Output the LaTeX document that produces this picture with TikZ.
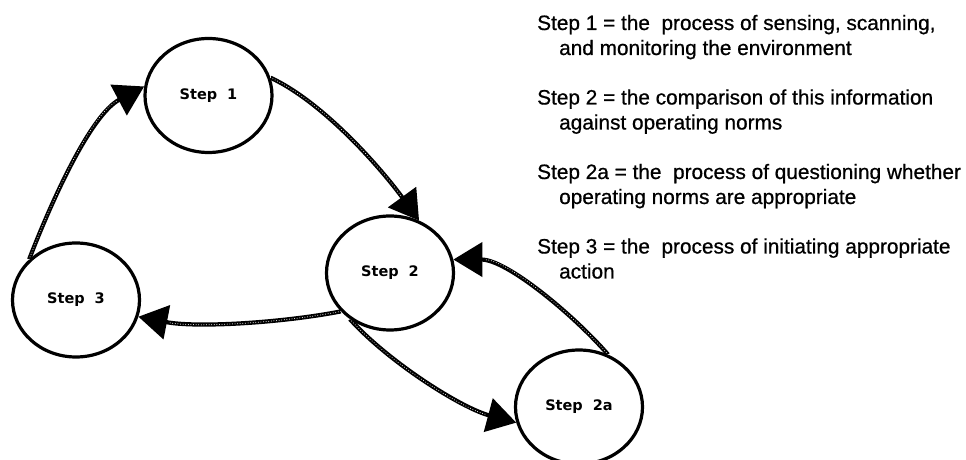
\documentclass[tikz,border=0pt]{standalone}
\usepackage{fontspec}
\setmainfont{Liberation Sans}[FakeBold=0.7]
\newfontfamily\stepfont{DejaVu Sans}
\usetikzlibrary{shapes.geometric,arrows.meta}

\tikzset{
  stage/.style={ellipse, draw=black, line width=3.2pt, inner sep=0pt,
    minimum width=127pt, minimum height=114pt,
    font=\stepfont\bfseries\fontsize{14.5}{17}\selectfont},
  flow/.style={line width=4.2pt, draw=black, looseness=0.75,
    -{Triangle[length=29pt,width=34pt]},
    postaction={draw=white, line width=1pt, dash pattern=on 0pt off 2.6pt,
      line cap=round, shorten >=31pt, -}},
  legend/.style={anchor=base west, inner sep=0pt,
    font=\fontsize{20.8}{25}\selectfont},
}

\begin{document}
\begin{tikzpicture}[x=1pt,y=1pt]
  \useasboundingbox (0,0) rectangle (966,460);

  % the four stages of the cycle
  \node[stage] (s1)  at (208.5,364.5) {Step\hspace{10pt}1};
  \node[stage] (s2)  at (390,187)     {Step\hspace{10pt}2};
  \node[stage] (s3)  at (76,160)      {Step\hspace{10pt}3};
  \node[stage] (s2a) at (579,53)      {Step\hspace{10pt}2a};

  % connectors between the stages
  \draw[flow] (s3.139)  to[out=69,in=208]  (s1.172);
  \draw[flow] (s1.16)   to[out=-25,in=126] (s2.61);
  \draw[flow] (s2.218)  to[out=191,in=-11] (s3.-15);
  \draw[flow] (s2.229)  to[out=-48,in=165] (s2a.194);
  \draw[flow] (s2a.61)  to[out=131,in=0]   (s2.12);

  % explanation of the steps
  \node[legend] (k1a) at (537,430)   {Step 1 = the~~process of sensing, scanning,};
  \node[legend] (k1b) at (559,405)   {and monitoring the environment};
  \node[legend] (k2a) at (537,355.5) {Step 2 = the comparison of this information};
  \node[legend] (k2b) at (559,330.5) {against operating norms};
  \node[legend] (k3a) at (537,281)   {Step 2a = the~~process of questioning whether};
  \node[legend] (k3b) at (559,256)   {operating norms are appropriate};
  \node[legend] (k4a) at (537,206.5) {Step 3 = the~~process of initiating appropriate};
  \node[legend] (k4b) at (559,181.5) {action};
\end{tikzpicture}
\end{document}
